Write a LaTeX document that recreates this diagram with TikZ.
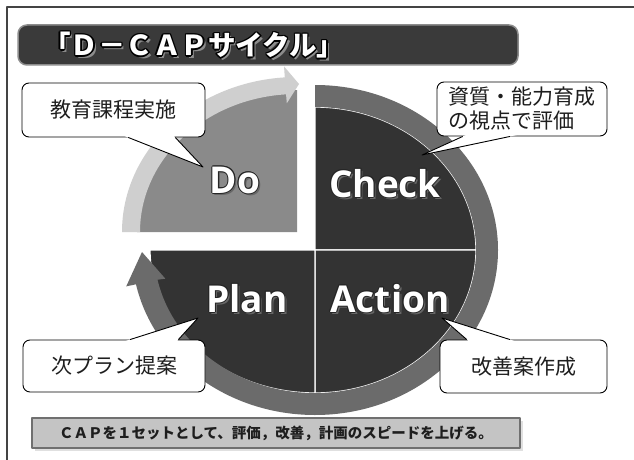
\documentclass[tikz,border=0pt]{standalone}
\usepackage{fontspec}
\usetikzlibrary{calc}
\newfontfamily\jp{Noto Sans CJK JP}
\newfontfamily\lbl{Open Sans}
\definecolor{quaddark}{HTML}{333333}
\definecolor{ringgray}{HTML}{6B6B6B}
\definecolor{dogray}{HTML}{8A8A8A}
\definecolor{lightarc}{HTML}{CFCFCF}
\definecolor{titlebg}{HTML}{3A3A3A}
\definecolor{titleedge}{HTML}{8C8C8C}
\definecolor{bannerbg}{HTML}{C4C4C4}
\definecolor{banneredge}{HTML}{707070}
\definecolor{framegray}{HTML}{444444}
\definecolor{txtdark}{HTML}{1E1E1E}
% #1 outline colour, #2 shadow colour, #3 distance, #4 diagonal distance, #5 text
\newcommand\outlinetxt[5]{%
  \leavevmode
  \rlap{\kern\dimexpr#3*2\relax\raisebox{\dimexpr-#3*2\relax}{\textcolor{#2}{#5}}}%
  \rlap{\kern#3\textcolor{#1}{#5}}%
  \rlap{\kern-#3\textcolor{#1}{#5}}%
  \rlap{\raisebox{#3}{\textcolor{#1}{#5}}}%
  \rlap{\raisebox{-#3}{\textcolor{#1}{#5}}}%
  \rlap{\kern#4\raisebox{#4}{\textcolor{#1}{#5}}}%
  \rlap{\kern#4\raisebox{-#4}{\textcolor{#1}{#5}}}%
  \rlap{\kern-#4\raisebox{#4}{\textcolor{#1}{#5}}}%
  \rlap{\kern-#4\raisebox{-#4}{\textcolor{#1}{#5}}}%
  \textcolor{white}{#5}}
\tikzset{
  quad/.style={fill=quaddark, draw=white, line width=1.3pt},
  callbox/.style={draw=black, fill=white, rounded corners=7pt, line width=0.9pt,
    inner sep=0pt, text=txtdark, font=\jp\fontsize{21}{24}\selectfont},
  ptr/.style={draw=black, line width=0.9pt},
  qlabel/.style={inner sep=0pt, font=\lbl\bfseries\fontsize{37}{40}\selectfont},
  titlebar/.style={fill=titlebg, draw=titleedge, line width=1.5pt, rounded corners=9pt,
    minimum width=500pt, minimum height=40pt, inner sep=0pt},
  titletext/.style={inner sep=0pt, font=\jp\bfseries\fontsize{27.5}{30}\selectfont},
  banner/.style={fill=bannerbg, draw=banneredge, line width=2pt, minimum width=488pt,
    minimum height=30pt, inner sep=0pt, text=txtdark,
    font=\jp\bfseries\fontsize{14.5}{16}\selectfont}
}
\begin{document}
\begin{tikzpicture}[x=1pt, y=-1pt, line join=round]
\path[use as bounding box] (0,0) rectangle (634,460);
\fill[white] (0,0) rectangle (634,460);
% frame
\draw[framegray, line width=1.2pt] (7,460) -- (7,7) -- (634,7);
% title
\node[titlebar] (tb) at (268,45) {};
\node[titletext, anchor=west] (tt) at (43,46)
  {\outlinetxt{black}{black!45}{1.3pt}{0.9pt}{「Ｄ－ＣＡＰサイクル」}};
% Do quadrant and light arrow
\fill[dogray] (297,232) -- (137,232) arc[start angle=180, end angle=270, x radius=160, y radius=142] -- cycle;
\fill[lightarc] (122,232) arc[start angle=180, end angle=266, x radius=175, y radius=155]
  -- ({297+186*cos(266)},{232+166*sin(266)}) -- (299,84)
  -- ({297+146*cos(266)},{232+129*sin(266)})
  -- ({297+157*cos(266)},{232+138*sin(266)})
  arc[start angle=266, end angle=180, x radius=157, y radius=138] -- cycle;
% dark quadrants
\path[quad] (315,250) -- (315,107) arc[start angle=-90, end angle=0, x radius=161, y radius=143] -- cycle;
\path[quad] (315,250) -- (476,250) arc[start angle=0, end angle=90, x radius=161, y radius=143] -- cycle;
\path[quad] (315,250) -- (315,393) arc[start angle=90, end angle=180, x radius=165, y radius=143] -- cycle;
% circular arrow
\fill[ringgray] (315,85) arc[start angle=-90, end angle=168, x radius=183, y radius=165]
  -- ({315+193*cos(168)},{250+175*sin(168)}) -- (142,252)
  -- ({315+153*cos(168)},{250+138*sin(168)})
  -- ({315+161*cos(168)},{250+143*sin(168)})
  arc[start angle=168, end angle=-90, x radius=161, y radius=143] -- cycle;
% quadrant labels
\node[qlabel, anchor=base] (ldo) at (235,193) {\outlinetxt{black!85}{black!60}{1pt}{0.7pt}{Do}};
\node[qlabel, anchor=base] (lcheck) at (385,197) {\outlinetxt{black!85}{black!60}{1pt}{0.7pt}{Check}};
\node[qlabel, anchor=base] (lplan) at (247,312) {\outlinetxt{black!85}{black!60}{1pt}{0.7pt}{Plan}};
\node[qlabel, anchor=base] (laction) at (390,312) {\outlinetxt{black!85}{black!60}{1pt}{0.7pt}{Action}};
% callouts
\node[callbox, minimum width=183pt, minimum height=54pt] (c1) at (113.5,110) {教育課程実施};
\coordinate (t1) at (203,167);
\coordinate (b1a) at ($(c1.south west)!0.58!(c1.south east)$);
\coordinate (b1b) at ($(c1.south west)!0.836!(c1.south east)$);
\fill[white] ($(t1)!1.08!(b1a)$) -- (t1) -- ($(t1)!1.08!(b1b)$) -- cycle;
\draw[ptr] (b1a) -- (t1) -- (b1b);

\node[callbox, minimum width=170pt, minimum height=54pt, align=left] (c2) at (522,109)
  {資質・能力育成\\の視点で評価};
\coordinate (t2) at (422,155);
\coordinate (b2a) at ($(c2.south west)!0.153!(c2.south east)$);
\coordinate (b2b) at ($(c2.south west)!0.43!(c2.south east)$);
\fill[white] ($(t2)!1.08!(b2a)$) -- (t2) -- ($(t2)!1.08!(b2b)$) -- cycle;
\draw[ptr] (b2a) -- (t2) -- (b2b);

\node[callbox, minimum width=182pt, minimum height=52pt] (c3) at (114,366) {次プラン提案};
\coordinate (t3) at (198,318);
\coordinate (b3a) at ($(c3.north west)!0.588!(c3.north east)$);
\coordinate (b3b) at ($(c3.north west)!0.852!(c3.north east)$);
\fill[white] ($(t3)!1.08!(b3a)$) -- (t3) -- ($(t3)!1.08!(b3b)$) -- cycle;
\draw[ptr] (b3a) -- (t3) -- (b3b);

\node[callbox, minimum width=167pt, minimum height=53pt] (c4) at (523.5,366.5) {改善案作成};
\coordinate (t4) at (442,318);
\coordinate (b4a) at ($(c4.north west)!0.162!(c4.north east)$);
\coordinate (b4b) at ($(c4.north west)!0.419!(c4.north east)$);
\fill[white] ($(t4)!1.08!(b4a)$) -- (t4) -- ($(t4)!1.08!(b4b)$) -- cycle;
\draw[ptr] (b4a) -- (t4) -- (b4b);
% banner
\fill[black!12] (35,421) rectangle (523,451);
\node[banner] (bn) at (276,433) {ＣＡＰを１セットとして、評価，改善，計画のスピードを上げる。};
\end{tikzpicture}
\end{document}
